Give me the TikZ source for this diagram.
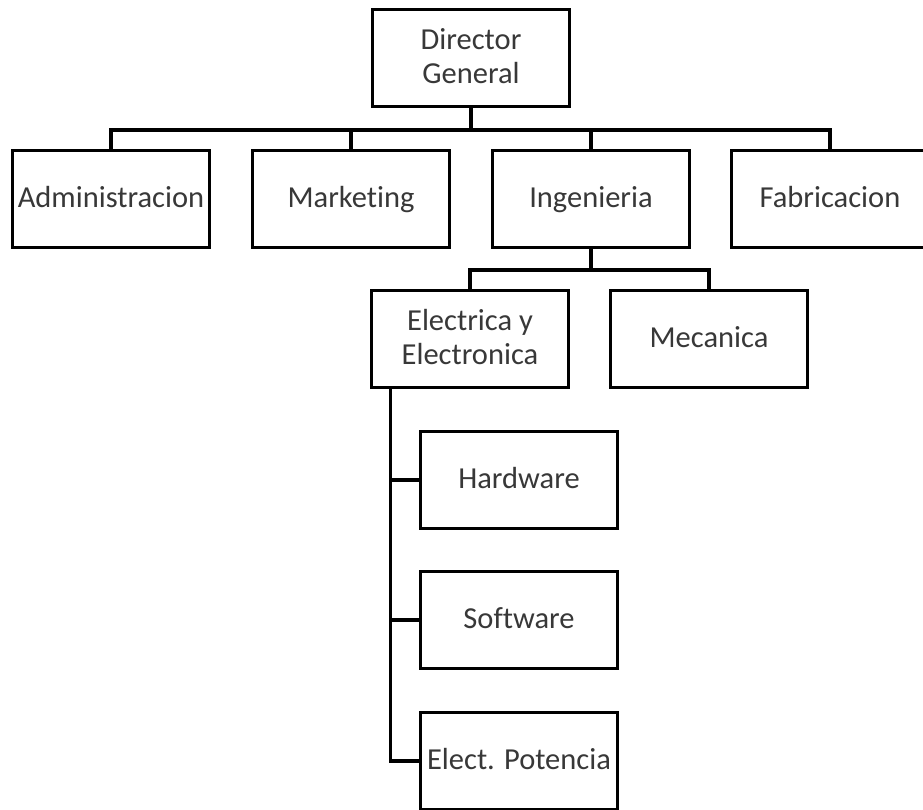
\documentclass[tikz,border=0pt]{standalone}
\usepackage{fontspec}
\setmainfont{Carlito}[Ligatures=NoCommon]
% invisible strut: 25pt above the baseline, 9pt below it
\newcommand\boxstrut{\rule[-9pt]{0pt}{34pt}}
\begin{document}
\begin{tikzpicture}[x=1pt,y=-1pt,
  unit/.style={draw=black, line width=3.6pt, fill=white, rectangle,
    minimum width=197pt, minimum height=97pt, inner sep=0pt, align=center,
    text=black!78, font=\fontsize{30.5}{34}\selectfont},
  link/.style={draw=black, line width=3.4pt, line join=miter}]
\useasboundingbox (0,0) rectangle (923,809);
\clip (0,0) rectangle (923,809);
\fill[white] (0,0) rectangle (923,809);

% boxes
\node[unit] (dir) at (471,58)  {\boxstrut Director\\\boxstrut General};
\node[unit] (adm) at (111,199) {\boxstrut Administracion};
\node[unit] (mkt) at (351,199) {\boxstrut Marketing};
\node[unit] (ing) at (591,199) {\boxstrut Ingenieria};
\node[unit] (fab) at (830,199) {\boxstrut Fabricacion};
\node[unit] (ele) at (470,339) {\boxstrut Electrica y\\\boxstrut Electronica};
\node[unit] (mec) at (709,339) {\boxstrut Mecanica};
\node[unit] (hw)  at (519,480) {\boxstrut Hardware};
\node[unit] (sw)  at (519,620) {\boxstrut Software};
\node[unit] (pot) at (519,761) {\boxstrut Elect. Potencia};

% first level
\coordinate (bus1) at (0,130);
\draw[link] (dir.south) -- (dir.south |- bus1);
\draw[link] (adm.north) |- (fab.north |- bus1) -- (fab.north);
\draw[link] (mkt.north) -- (mkt.north |- bus1);
\draw[link] (ing.north) -- (ing.north |- bus1);

% engineering
\coordinate (bus2) at (0,270);
\draw[link] (ing.south) -- (ing.south |- bus2);
\draw[link] (ele.north) |- (mec.north |- bus2) -- (mec.north);

% electrical / electronic branch
\coordinate (spine) at ([xshift=21pt]ele.south west);
\draw[link] (spine) |- (pot.west);
\draw[link] (spine |- hw.west) -- (hw.west);
\draw[link] (spine |- sw.west) -- (sw.west);
\end{tikzpicture}
\end{document}
